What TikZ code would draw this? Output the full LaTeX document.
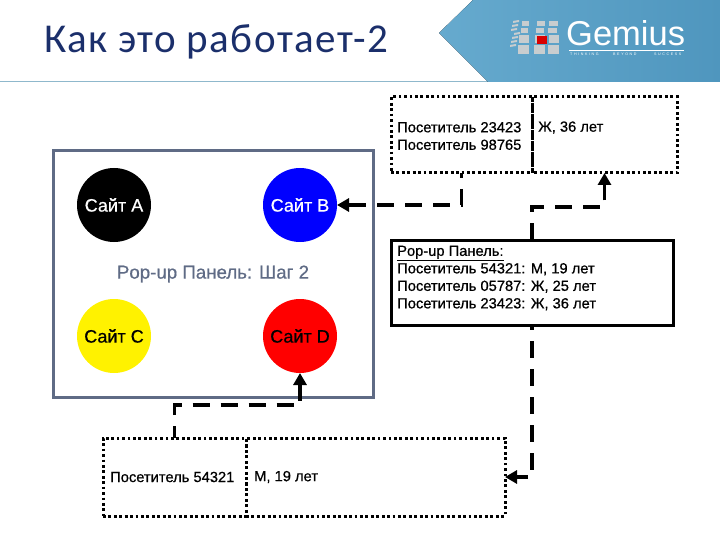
\documentclass[tikz,border=0pt]{standalone}
\usepackage{fontspec}
\setmainfont[FakeBold=0.6]{Liberation Sans}
\newfontfamily\titlefont[LetterSpace=3.5]{Carlito}
\newfontfamily\logofont{Liberation Sans}
\newfontfamily\slogfont[LetterSpace=45]{Liberation Sans}
\usetikzlibrary{arrows.meta,calc}
\definecolor{titlecol}{HTML}{1B2F6B}
\definecolor{framecol}{HTML}{5F6B85}
\definecolor{linecol}{HTML}{8FB8CC}
\definecolor{logoa}{HTML}{66AACE}
\definecolor{logob}{HTML}{4F96BE}
\definecolor{tile}{HTML}{C8CDCF}
\tikzset{
  x=1pt,y=-1pt,
  cell/.style={draw=black,line width=3pt,dash pattern=on 2.8pt off 2.63pt,inner sep=0pt,outer sep=0pt,anchor=north west},
  lbl/.style={font=\fontsize{14.7}{17.5}\selectfont,inner sep=0pt,anchor=west,align=left,text=black},
  site/.style={circle,minimum size=74pt,inner sep=0pt,outer sep=0pt,font=\fontsize{18}{20}\selectfont},
  conn/.style={draw=black,line width=3.4pt,dash pattern=on 17pt off 11pt,-{Triangle[length=12pt,width=13pt]}},
  sl/.style={font=\slogfont\fontsize{3.6}{4}\selectfont,text=white,anchor=west,inner sep=0pt}
}
\begin{document}
\begin{tikzpicture}
\useasboundingbox (0,0) rectangle (720,540);
% title band
\draw[linecol,line width=1pt] (0,82) -- (720,82);
\fill[left color=logoa,right color=logob] (473,0) -- (720,0) -- (720,82) -- (488,82) -- (439,33) -- cycle;
\node[font=\titlefont\fontsize{41}{44}\selectfont,text=titlecol,anchor=base west,inner sep=0pt] (title) at (44,53) {Как это работает-2};
% logo tiles
\foreach \xa/\xb in {521/528, 536/544, 548/557}{
  \fill[tile] (\xa+1,21) -- (\xb+1,21) -- (\xb+1,26) -- (\xa+1,26) -- cycle;
  \fill[tile] (\xa,28) -- (\xb,28) -- (\xb,33) -- (\xa,33) -- cycle;
}
\foreach \x in {519,535,549}{
  \fill[tile] (\x,35) rectangle +(10,8);
  \fill[tile] (\x-1,45) rectangle +(11,9);
}
\foreach \x/\y in {513/21,512/25,511/29,514/33,512/37,511/41,510/45}{\fill[tile] (\x,\y) -- +(6,-1) -- +(6,1) -- +(0,2) -- cycle;}
\fill[red!85!black] (537,36) rectangle +(10,8);
\node[font=\logofont\fontsize{34.5}{36}\selectfont,text=white,anchor=base west,inner sep=0pt] (logo) at (566,46) {Gemius};
\draw[white,line width=0.5pt] (569,50) -- (684,50);
\node[sl] (s1) at (570,54) {THINKING};
\node[sl] (s2) at (613,54) {BEYOND};
\node[sl] (s3) at (654,54) {SUCCESS};
% frame
\node[draw=framecol,line width=3pt,minimum width=320pt,minimum height=246pt,inner sep=0pt,outer sep=0pt,anchor=north west] (frame) at (53,151) {};
\node[site,fill=black,text=white] (A) at (114,205) {Сайт А};
\node[site,fill=blue,text=white] (B) at (300,205) {Сайт В};
\node[site,fill=yellow,text=black] (C) at (114,336) {Сайт С};
\node[site,fill=red,text=black] (D) at (300,336) {Сайт D};
\node[font=\fontsize{18.7}{20}\selectfont,text=framecol,inner sep=0pt] (stp) at (213,274) {Pop-up Панель: Шаг 2};
% top box
\node[cell,minimum width=141pt,minimum height=76pt] (ta) at (391,97) {};
\node[cell,dash phase=3pt,minimum width=145pt,minimum height=76pt] (tb) at (532,97) {};
\node[lbl] (tat) at (397,136) {Посетитель 23423\\Посетитель 98765};
\node[lbl] (tbt) at (538,127.5) {Ж, 36 лет};
% panel
\node[draw=black,line width=3pt,fill=white,minimum width=282pt,minimum height=85pt,inner sep=0pt,outer sep=0pt,anchor=north west] (panel) at (391,240) {};
\node[lbl] (pt) at (397,278) {\underline{Pop-up Панель:}\\Посетитель 54321: М, 19 лет\\Посетитель 05787: Ж, 25 лет\\Посетитель 23423: Ж, 36 лет};
% bottom box
\node[cell,minimum width=143pt,minimum height=78pt] (ba) at (103,438) {};
\node[cell,minimum width=259pt,minimum height=78pt] (bb) at (246,438) {};
\node[lbl] (bat) at (110,477) {Посетитель 54321};
\node[lbl] (bbt) at (254,477) {М, 19 лет};
% connectors
\draw[conn,dash phase=12pt] (ta.south) |- (B.east);
\draw[conn,dash phase=0pt] (panel.north) -- ++(0,-33) -| (tb.south);
\draw[conn,dash phase=5pt] (ba.north) -- ++(0,-33) -| (D.south);
\draw[conn,dash phase=12pt] (panel.south) |- (bb.east);
\end{tikzpicture}
\end{document}
